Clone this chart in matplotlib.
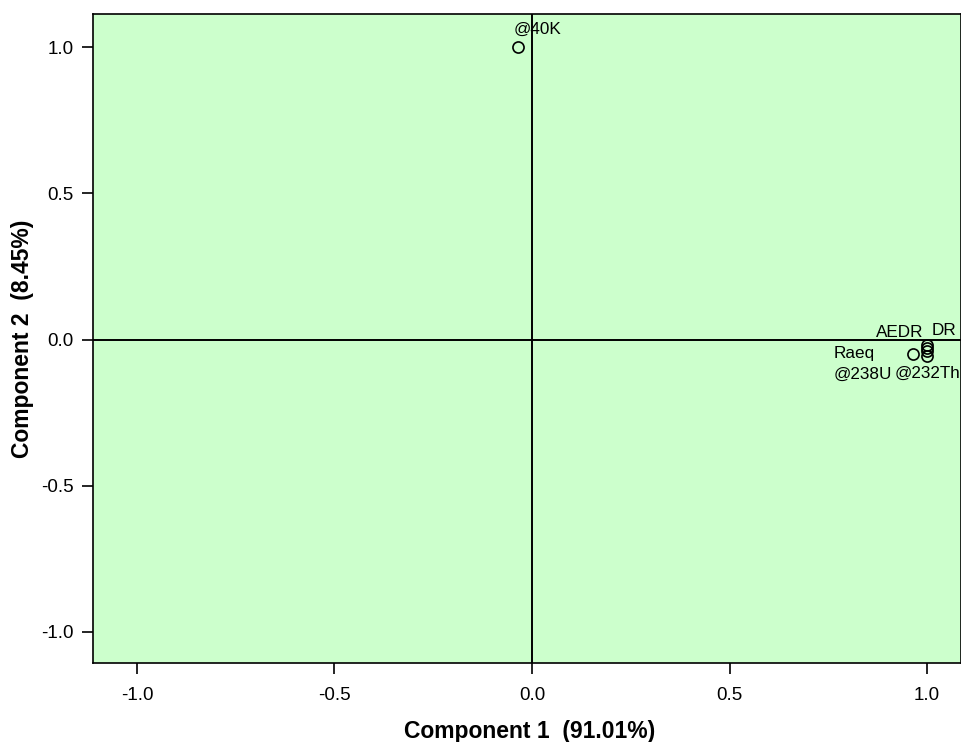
import matplotlib
matplotlib.use("Agg")
import matplotlib.pyplot as plt

plt.rcParams['font.family'] = ['Liberation Sans', 'DejaVu Sans']

# component loadings
names = ['@40K', 'AEDR', 'DR', 'Raeq', '@238U', '@232Th']
comp1 = [-0.035, 1.0, 1.0, 1.0, 0.965, 1.0]
comp2 = [1.0, -0.02, -0.03, -0.04, -0.05, -0.058]
# label offsets in points (where the labels sit relative to each point)
label_dx = [-3, -37, 3, -67, -57, -23]
label_dy = [13, 9.5, 12.5, -2, -14.5, -12.5]

fig = plt.figure(figsize=(9.62, 7.42), dpi=100)
ax = fig.add_axes([0.0967, 0.1065, 0.9023, 0.8746])
ax.set_facecolor('#ccffcc')

ax.axhline(0, color='black', lw=1.4, zorder=1)
ax.axvline(0, color='black', lw=1.4, zorder=1)

ax.plot(comp1, comp2, 'o', mfc='none', mec='black', ms=8, mew=1.2, zorder=3)
for n, x, y, dx, dy in zip(names, comp1, comp2, label_dx, label_dy):
    ax.annotate(n, (x, y), xytext=(dx, dy), textcoords='offset points',
                fontsize=12.3, ha='left', va='center')

ax.set_xlim(-1.111, 1.086)
ax.set_ylim(-1.106, 1.113)
ax.set_xticks([-1.0, -0.5, 0.0, 0.5, 1.0])
ax.set_yticks([-1.0, -0.5, 0.0, 0.5, 1.0])
ax.set_xticklabels(['-1.0', '-0.5', '0.0', '0.5', '1.0'])
ax.set_yticklabels(['-1.0', '-0.5', '0.0', '0.5', '1.0'])
ax.tick_params(labelsize=13.5, length=8, width=1.2, direction='out', pad=6)
ax.tick_params(axis='x', pad=9)
for s in ax.spines.values():
    s.set_linewidth(1.2)

ax.set_xlabel('Component 1  (91.01%)', fontsize=16.5, fontweight='bold', va='center')
ax.xaxis.set_label_coords(0.503, -0.106)
ax.set_ylabel('Component 2  (8.45%)', fontsize=16.5, fontweight='bold', va='center')
ax.yaxis.set_label_coords(-0.0817, 0.5)

fig.savefig('out.png', dpi=100)
